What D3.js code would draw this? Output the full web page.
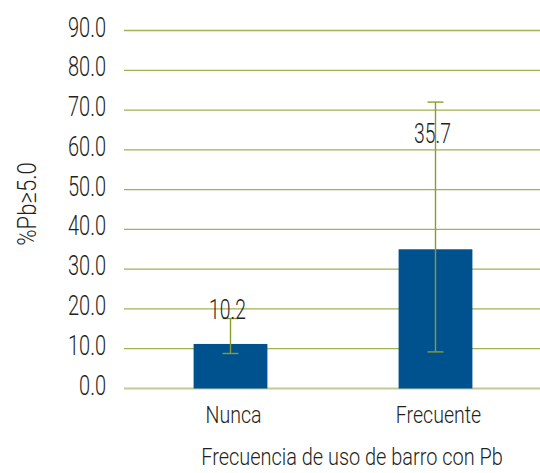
<!DOCTYPE html>
<html>
<head>
<meta charset="utf-8">
<script src="https://cdn.jsdelivr.net/npm/d3@7"></script>
<style>
  html, body { margin: 0; padding: 0; background: #fff; }
  text { font-family: Roboto, "DejaVu Sans", sans-serif; font-weight: 300; fill: #231f20; }
</style>
</head>
<body>
<div id="app"></div>
<script>
const categories = ["Nunca", "Frecuente"];
const barValues = [11.2, 35.0];
const valueLabels = ["10.2", "35.7"];
const labelAt = [17.4, 61.7];
const errLow = [8.8, 9.2];
const errHigh = [17.6, 72.0];
const yTicks = [0, 10, 20, 30, 40, 50, 60, 70, 80, 90];

const width = 540;
const height = 473;

// squeeze glyphs to get close to a condensed face
const condense = (sel, k) =>
  sel.each(function () {
    const w = this.getComputedTextLength();
    d3.select(this).attr("textLength", w * k).attr("lengthAdjust", "spacingAndGlyphs");
  });

const svg = d3
  .select("#app")
  .append("svg")
  .attr("width", width)
  .attr("height", height);

const x = d3
  .scaleBand()
  .domain(categories)
  .range([128, 538])
  .paddingInner(0.64)
  .paddingOuter(0.32);

const y = d3.scaleLinear().domain([0, 90]).range([388.5, 30.5]);

// gridlines
svg
  .append("g")
  .selectAll("line")
  .data(yTicks)
  .enter()
  .append("line")
  .attr("x1", 124)
  .attr("x2", width)
  .attr("y1", (d) => y(d))
  .attr("y2", (d) => y(d))
  .attr("stroke", (d) => (d === 0 ? "#c2ca98" : "#a2b152"))
  .attr("stroke-width", (d) => (d === 0 ? 2 : 1.3));

// y tick labels
svg
  .append("g")
  .selectAll("text")
  .data(yTicks)
  .enter()
  .append("text")
  .attr("x", 106)
  .attr("y", (d) => y(d) + 6)
  .attr("text-anchor", "end")
  .attr("font-size", 27)
  .text((d) => d.toFixed(1))
  .call(condense, 0.74);

// bars
svg
  .append("g")
  .selectAll("rect")
  .data(categories)
  .enter()
  .append("rect")
  .attr("x", (d) => x(d))
  .attr("y", (d, i) => y(barValues[i]))
  .attr("width", x.bandwidth())
  .attr("height", (d, i) => y(0) - y(barValues[i]))
  .attr("fill", "#00528f");

// error bars
const err = svg.append("g").attr("stroke", "#8c9c2c").attr("stroke-width", 1.4);
categories.forEach((c, i) => {
  const cx = x(c) + x.bandwidth() / 2;
  err.append("line").attr("x1", cx).attr("x2", cx).attr("y1", y(errLow[i])).attr("y2", y(errHigh[i]));
  [errLow[i], errHigh[i]].forEach((v) => {
    err.append("line").attr("x1", cx - 8).attr("x2", cx + 8).attr("y1", y(v)).attr("y2", y(v));
  });
});

// value labels
svg
  .append("g")
  .selectAll("text")
  .data(categories)
  .enter()
  .append("text")
  .attr("x", (d) => x(d) + x.bandwidth() / 2 - 3)
  .attr("y", (d, i) => y(labelAt[i]))
  .attr("text-anchor", "middle")
  .attr("font-size", 28)
  .text((d, i) => valueLabels[i])
  .call(condense, 0.69);

// category labels
svg
  .append("g")
  .selectAll("text")
  .data(categories)
  .enter()
  .append("text")
  .attr("x", (d) => x(d) + x.bandwidth() / 2 + 3)
  .attr("y", 423)
  .attr("text-anchor", "middle")
  .attr("font-size", 23)
  .text((d) => d)
  .call(condense, 0.85);

// axis titles
svg
  .append("text")
  .attr("x", 352)
  .attr("y", 465)
  .attr("text-anchor", "middle")
  .attr("font-size", 24)
  .text("Frecuencia de uso de barro con Pb")
  .call(condense, 0.83);

svg
  .append("text")
  .attr("transform", "translate(36,204) rotate(-90)")
  .attr("text-anchor", "middle")
  .attr("font-size", 26)
  .text("%Pb≥5.0")
  .call(condense, 0.85);
</script>
</body>
</html>
